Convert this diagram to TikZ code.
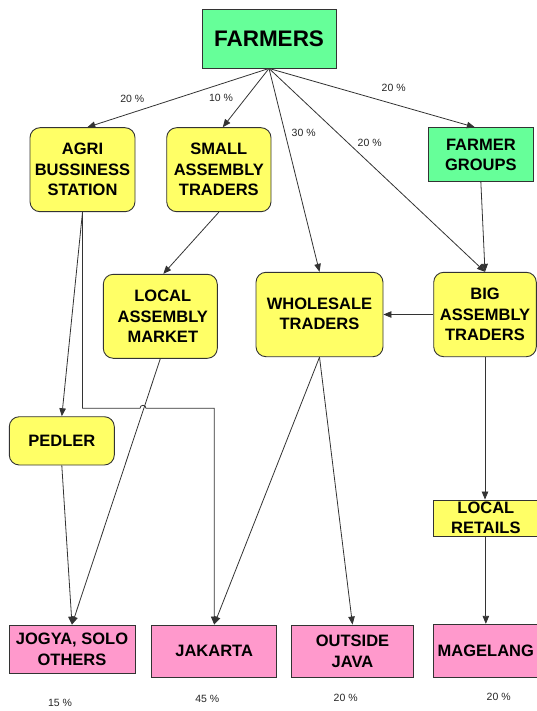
\documentclass[tikz,border=0pt]{standalone}
\usepackage{fontspec}
\setmainfont{Liberation Sans}
\usetikzlibrary{arrows.meta}
\definecolor{grn}{HTML}{66FF99}
\definecolor{ylw}{HTML}{FFFF66}
\definecolor{pnk}{HTML}{FF99CC}
\begin{document}
\begin{tikzpicture}[x=1pt,y=-1pt,
  box/.style={draw=black!80, line width=0.9pt, inner sep=0pt, align=center,
    font=\fontsize{16.5}{20.5}\selectfont\bfseries},
  greenbox/.style={box, fill=grn},
  ybox/.style={box, fill=ylw, rounded corners=10pt},
  yrect/.style={box, fill=ylw},
  pbox/.style={box, fill=pnk},
  pct/.style={font=\fontsize{10.5}{12}\selectfont, text=black!85, inner sep=0pt},
  arr/.style={draw=black!80, line width=0.8pt, -{Triangle[length=8pt,width=6.5pt]}},
]
\useasboundingbox (0,0) rectangle (537,711);

% nodes
\node[greenbox, minimum width=134pt, minimum height=59pt,
  font=\fontsize{22.5}{26}\selectfont\bfseries] (farmers) at (269,38.5) {FARMERS};
\node[ybox, minimum width=105pt, minimum height=84pt] (agri) at (82.5,169.7) {AGRI\\BUSSINESS\\STATION};
\node[ybox, minimum width=104.3pt, minimum height=84pt] (small) at (218.85,169.7) {SMALL\\ASSEMBLY\\TRADERS};
\node[greenbox, minimum width=105.7pt, minimum height=54pt] (fg) at (480.85,154.7) {FARMER\\GROUPS};
\node[ybox, minimum width=114pt, minimum height=84pt] (lam) at (160.3,316.3) {\hspace*{5pt}LOCAL\\\hspace*{5pt}ASSEMBLY\\\hspace*{5pt}MARKET};
\node[ybox, minimum width=127pt, minimum height=84.4pt] (wholesale) at (319.5,314.5) {\raisebox{2pt}{WHOLESALE}\\\raisebox{2pt}{TRADERS}};
\node[ybox, minimum width=102.6pt, minimum height=84.4pt] (big) at (485,314.5) {BIG\\ASSEMBLY\\TRADERS};
\node[ybox, minimum width=105pt, minimum height=48.3pt] (pedler) at (61.8,440.85) {PEDLER};
\node[yrect, minimum width=104.3pt, minimum height=36pt] (lr) at (485.85,518) {LOCAL\\RETAILS};
\node[pbox, minimum width=126pt, minimum height=48.3pt] (jogya) at (72,649.15) {JOGYA, SOLO\\OTHERS};
\node[pbox, minimum width=125pt, minimum height=52.7pt] (jakarta) at (214.2,651.35) {JAKARTA};
\node[pbox, minimum width=121.6pt, minimum height=52.7pt] (outside) at (352.5,651.35) {OUTSIDE\\JAVA};
\node[pbox, minimum width=104.3pt, minimum height=53.4pt] (magelang) at (485.85,651) {MAGELANG};

% percentage labels
\node[pct] (p1) at (132.3,99) {20 \%};
\node[pct] (p2) at (221,97.7) {10 \%};
\node[pct] (p3) at (303.7,133.3) {30 \%};
\node[pct] (p4) at (369.7,142.7) {20 \%};
\node[pct] (p5) at (393.7,88.3) {20 \%};
\node[pct] (p6) at (60,703.3) {15 \%};
\node[pct] (p7) at (207.3,699) {45 \%};
\node[pct] (p8) at (345.7,698.3) {20 \%};
\node[pct] (p9) at (498.7,696.7) {20 \%};

% connectors
\draw[arr] (farmers.south) -- ([xshift=4.8pt]agri.north);
\draw[arr] (farmers.south) -- ([xshift=3.9pt]small.north);
\draw[arr] (farmers.south) -- (wholesale.north);
\draw[arr] (farmers.south) -- (big.north);
\draw[arr] (farmers.south) -- ([xshift=-6pt]fg.north);
\draw[arr] (fg.south) -- (big.north);
\draw[arr] (small.south) -- ([xshift=3pt]lam.north);
\draw[arr] (agri.south) -- (pedler.north);
\coordinate (bendy) at (0,408.3);
\coordinate (hopA) at (140,408.3);
\coordinate (hopB) at (146,408.3);
\draw[arr] (agri.south) -- (agri.south |- bendy) -- (hopA)
  .. controls ([yshift=4pt]hopA) and ([yshift=4pt]hopB) .. (hopB)
  -- (jakarta.north |- bendy) -- (jakarta.north);
\draw[arr] (lam.south) -- (jogya.north);
\draw[arr] (pedler.south) -- (jogya.north);
\draw[arr] (wholesale.south) -- (jakarta.north);
\draw[arr] (wholesale.south) -- (outside.north);
\draw[arr] (big.west) -- (wholesale.east);
\draw[arr] (big.south) -- (big.south |- lr.north);
\draw[arr] (lr.south) -- (lr.south |- magelang.north);
\end{tikzpicture}
\end{document}
